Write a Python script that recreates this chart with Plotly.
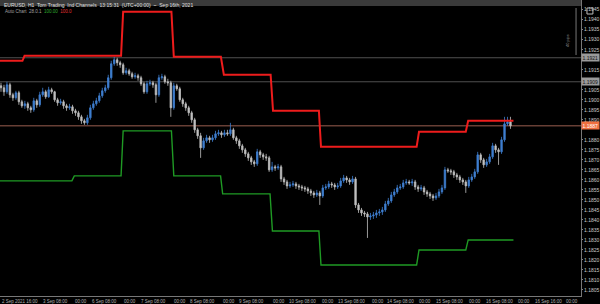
import plotly.graph_objects as go

# ---- candle data, prices in points (1e-5) ----
open_pts = [119070,119060,119040,119075,119025,119010,119035,118990,118970,118980,
 118960,118950,118995,118975,119025,119040,119015,119050,119040,119000,
 118985,118990,118970,118960,118965,118945,118935,118915,118895,118885,
 118910,118960,118980,118995,119020,119045,119060,119110,119180,119200,
 119185,119175,119135,119145,119130,119115,119120,119110,119080,119040,
 119080,119085,119075,119025,119110,119115,119090,119085,118960,119070,
 119055,119000,118980,118960,118935,118900,118850,118820,118760,118795,
 118810,118800,118810,118830,118835,118825,118835,118830,118850,118810,
 118795,118770,118750,118730,118710,118690,118680,118740,118725,118715,
 118710,118650,118665,118660,118665,118605,118590,118570,118575,118580,
 118570,118565,118560,118555,118545,118535,118525,118535,118520,118560,
 118565,118580,118575,118565,118570,118595,118610,118600,118590,118605,
 118475,118450,118435,118430,118415,118420,118425,118435,118440,118450,
 118480,118495,118525,118540,118560,118565,118585,118590,118585,118590,
 118565,118555,118560,118540,118530,118520,118510,118520,118540,118560,
 118650,118645,118640,118625,118615,118600,118590,118570,118600,118615,
 118640,118725,118700,118675,118690,118715,118770,118750,118740,118800,
 118880,118890]
high_pts = [119085,119075,119090,119085,119035,119045,119045,119000,118995,118990,
 118970,119010,119005,119040,119060,119050,119065,119060,119045,119010,
 119005,119000,118980,118980,118975,118955,118945,118925,118905,118925,
 118975,118995,119010,119035,119060,119075,119125,119195,119215,119210,
 119195,119185,119160,119155,119140,119135,119130,119120,119090,119095,
 119100,119095,119085,119125,119130,119125,119105,119095,119085,119080,
 119065,119010,118990,118970,118945,118910,118860,118835,118810,118825,
 118820,118825,118845,118850,118845,118850,118850,118885,118860,118820,
 118805,118780,118760,118740,118720,118700,118755,118750,118735,118730,
 118720,118690,118675,118680,118675,118615,118600,118590,118595,118590,
 118580,118575,118570,118565,118555,118545,118550,118545,118575,118580,
 118595,118590,118585,118585,118610,118625,118620,118610,118620,118615,
 118485,118460,118445,118440,118435,118440,118450,118455,118465,118495,
 118510,118540,118555,118575,118580,118600,118605,118600,118605,118600,
 118575,118575,118570,118550,118540,118530,118535,118555,118575,118665,
 118660,118655,118650,118635,118625,118610,118600,118615,118630,118655,
 118740,118735,118710,118705,118730,118785,118780,118760,118815,118915,
 118915,118915]
low_pts = [119040,119020,119030,119010,118995,119000,118975,118960,118955,118945,
 118935,118940,118960,118965,119015,119005,119010,119030,118990,118970,
 118975,118955,118945,118950,118930,118920,118900,118880,118875,118875,
 118900,118950,118970,118985,119010,119035,119050,119100,119170,119170,
 119160,119125,119125,119120,119105,119105,119095,119070,119030,119030,
 119070,119060,118985,119015,119100,119080,119070,118915,118950,119045,
 118990,118965,118945,118920,118885,118835,118805,118710,118750,118785,
 118785,118790,118800,118820,118810,118815,118820,118820,118800,118780,
 118755,118735,118715,118695,118675,118665,118670,118710,118700,118695,
 118640,118640,118645,118650,118590,118575,118555,118560,118565,118555,
 118550,118545,118540,118530,118520,118510,118515,118475,118510,118550,
 118555,118560,118550,118555,118560,118585,118585,118575,118580,118460,
 118435,118420,118415,118310,118400,118405,118410,118420,118425,118440,
 118470,118485,118515,118530,118550,118555,118575,118575,118570,118550,
 118540,118545,118525,118515,118505,118495,118500,118510,118530,118550,
 118635,118625,118610,118600,118585,118575,118535,118560,118590,118605,
 118630,118685,118660,118665,118680,118705,118735,118675,118730,118790,
 118870,118855]
close_pts = [119060,119040,119075,119025,119010,119035,118990,118970,118980,118960,
 118950,118995,118975,119025,119040,119015,119050,119040,119000,118985,
 118990,118970,118960,118965,118945,118935,118915,118895,118885,118910,
 118960,118980,118995,119020,119045,119060,119110,119180,119200,119185,
 119175,119135,119145,119130,119115,119120,119110,119080,119040,119080,
 119085,119075,119025,119110,119115,119090,119085,118960,119070,119055,
 119000,118980,118960,118935,118900,118850,118820,118760,118795,118810,
 118800,118810,118830,118835,118825,118835,118830,118850,118810,118795,
 118770,118750,118730,118710,118690,118680,118740,118725,118715,118710,
 118650,118665,118660,118665,118605,118590,118570,118575,118580,118570,
 118565,118560,118555,118545,118535,118525,118535,118520,118560,118565,
 118580,118575,118565,118570,118595,118610,118600,118590,118605,118475,
 118450,118435,118430,118415,118420,118425,118435,118440,118450,118480,
 118495,118525,118540,118560,118565,118585,118590,118585,118590,118565,
 118555,118560,118540,118530,118520,118510,118520,118540,118560,118650,
 118645,118640,118625,118615,118600,118590,118570,118600,118615,118640,
 118725,118700,118675,118690,118715,118770,118750,118740,118800,118880,
 118890,118870]

# ---- channel segments (bar index start/end, level in points) ----
red_x0 = [-0.4, 7.9, 41.0, 58.0, 74.8, 91.3, 107.4, 140.3, 156.8]
red_x1 = [7.2, 40.3, 57.2, 73.8, 90.5, 106.7, 139.5, 156.0, 172.0]
red_lvl = [119195, 119220, 119440, 119215, 119125, 118945, 118765, 118840, 118895]
green_x0 = [-0.4, 24.6, 41.0, 58.0, 74.4, 91.1, 107.4, 140.3, 156.8]
green_x1 = [23.8, 40.3, 57.2, 73.7, 90.3, 106.7, 139.5, 156.0, 172.0]
green_lvl = [118595, 118620, 118845, 118620, 118530, 118345, 118175, 118250, 118300]

# ---- horizontal levels ----
level_lines = [119210, 119090]
level_labels = ["1.1921", "1.1909"]
price_now = 118870
price_label = "1.1887"

# ---- price axis labels ----
ytick_vals = [1.1945, 1.1940, 1.1935, 1.1930, 1.1925, 1.1915, 1.1905, 1.1900,
              1.1895, 1.1890, 1.1880, 1.1875, 1.1870, 1.1865, 1.1860, 1.1855,
              1.1850, 1.1845, 1.1840, 1.1835, 1.1830, 1.1825, 1.1820, 1.1815,
              1.1810, 1.1805]

# ---- time axis labels (bar index, text) ----
xlab_pos = [-0.3, 13.3, 24.3, 29.8, 40.7, 46.2, 57.3, 62.7, 74.0, 79.3, 90.7, 96.0,
            107.0, 112.3, 123.7, 129.0, 139.7, 145.3, 156.3, 162.0, 173.0, 178.7, 189.0]
xlab_txt = ["2 Sep 2021 16:00", "3 Sep 08:00", "00:00", "6 Sep 08:00", "00:00", "7 Sep 08:00",
            "00:00", "8 Sep 08:00", "00:00", "9 Sep 08:00", "00:00", "10 Sep 08:00",
            "00:00", "13 Sep 08:00", "00:00", "14 Sep 08:00", "00:00", "15 Sep 08:00",
            "00:00", "16 Sep 08:00", "00:00", "16 Sep 16:00", "00:00"]

P = 1e5
FONT = "Liberation Sans"
xs = list(range(len(close_pts)))

fig = go.Figure()
fig.add_trace(go.Candlestick(
    x=xs,
    open=[v / P for v in open_pts], high=[v / P for v in high_pts],
    low=[v / P for v in low_pts], close=[v / P for v in close_pts],
    increasing=dict(line=dict(color="#3f7fd0", width=0.8), fillcolor="#3f7fd0"),
    decreasing=dict(line=dict(color="#c0c0c0", width=0.8), fillcolor="#c0c0c0"),
    whiskerwidth=0, hoverinfo="skip"))

def step(x0s, x1s, lv):
    X, Y = [], []
    for a, b, l in zip(x0s, x1s, lv):
        X += [a, b]
        Y += [l / P, l / P]
    return X, Y

rx, ry = step(red_x0, red_x1, red_lvl)
gx, gy = step(green_x0, green_x1, green_lvl)
fig.add_trace(go.Scatter(x=rx, y=ry, mode="lines", line=dict(color="#ee1c1c", width=2), hoverinfo="skip"))
fig.add_trace(go.Scatter(x=gx, y=gy, mode="lines", line=dict(color="#1f9a24", width=1.4), hoverinfo="skip"))

shapes = []
annos = []
for v, t in zip(level_lines, level_labels):
    shapes.append(dict(type="line", xref="paper", x0=0, x1=1, yref="y", y0=v / P, y1=v / P,
                       line=dict(color="#505050", width=1), layer="below"))
    annos.append(dict(xref="paper", x=1.0, xanchor="left", yref="y", y=v / P, text=t, showarrow=False,
                      bgcolor="#9a9a9a", font=dict(size=5, color="#111", family=FONT), borderpad=0.5))
shapes.append(dict(type="line", xref="paper", x0=0, x1=1, yref="y", y0=price_now / P, y1=price_now / P,
                   line=dict(color="#9a5e50", width=1), layer="below"))
annos.append(dict(xref="paper", x=1.0, xanchor="left", yref="y", y=price_now / P, text=price_label,
                  showarrow=False, bgcolor="#f07040", font=dict(size=5, color="#ffffff", family=FONT),
                  borderpad=0.5))

# title bar
shapes.append(dict(type="rect", xref="paper", x0=0, x1=1, yref="paper", y0=1 - 6 / 296, y1=1,
                   fillcolor="#3a3a3a", line=dict(width=0)))
annos.append(dict(xref="paper", x=0.003, xanchor="left", yref="paper", y=1, yanchor="top", showarrow=False,
                  text="EURUSD, H1  Tom Trading  Ind Channels  13:15:31  (UTC+00:00)  ~  Sep 16th, 2021",
                  font=dict(size=5, color="#e0e0e0", family=FONT)))
annos.append(dict(xref="paper", x=0.005, xanchor="left", yref="paper", y=1 - 7 / 296, yanchor="top",
                  showarrow=False,
                  text="Auto Chart  28.0.1  <span style='color:#2ea82e'>100.00</span>  "
                       "<span style='color:#e03030'>100.0</span>",
                  font=dict(size=4.5, color="#a0a0a0", family=FONT)))

# ruler
shapes.append(dict(type="line", xref="paper", x0=580 / 585, x1=580 / 585, yref="paper",
                   y0=1 - 55 / 296, y1=1 - 8 / 296, line=dict(color="#777", width=1)))
annos.append(dict(xref="paper", x=576 / 585, yref="paper", y=1 - 32 / 296, text="40 pips", textangle=-90,
                  showarrow=False, font=dict(size=4, color="#999", family=FONT)))
# icon
shapes.append(dict(type="rect", xref="paper", x0=591 / 585, x1=597 / 585, yref="paper",
                   y0=1 - 14 / 296, y1=1 - 8 / 296, line=dict(color="#bbb", width=1)))

for p, t in zip(xlab_pos, xlab_txt):
    annos.append(dict(xref="x", x=p, xanchor="left", yref="paper", y=0, yanchor="top", yshift=-1,
                      text=t, showarrow=False, font=dict(size=4.5, color="#b0b0b0", family=FONT)))

fig.update_layout(
    width=600, height=304, margin=dict(l=0, r=15, t=0, b=8),
    paper_bgcolor="black", plot_bgcolor="black", showlegend=False,
    xaxis=dict(range=[-1 / 3, 194.67], rangeslider=dict(visible=False), showgrid=False, zeroline=False,
               showticklabels=False, showline=True, linecolor="#777", linewidth=1, ticks=""),
    yaxis=dict(range=[1.18020, 1.194985], side="right", tickmode="array", tickvals=ytick_vals,
               tickformat=".4f",
               tickfont=dict(size=5, color="#c8c8c8", family=FONT), showgrid=False, zeroline=False,
               ticks="outside", ticklen=1, tickcolor="#888", showline=True, linecolor="#777", linewidth=1),
    shapes=shapes, annotations=annos)

fig.write_html("out.html")
